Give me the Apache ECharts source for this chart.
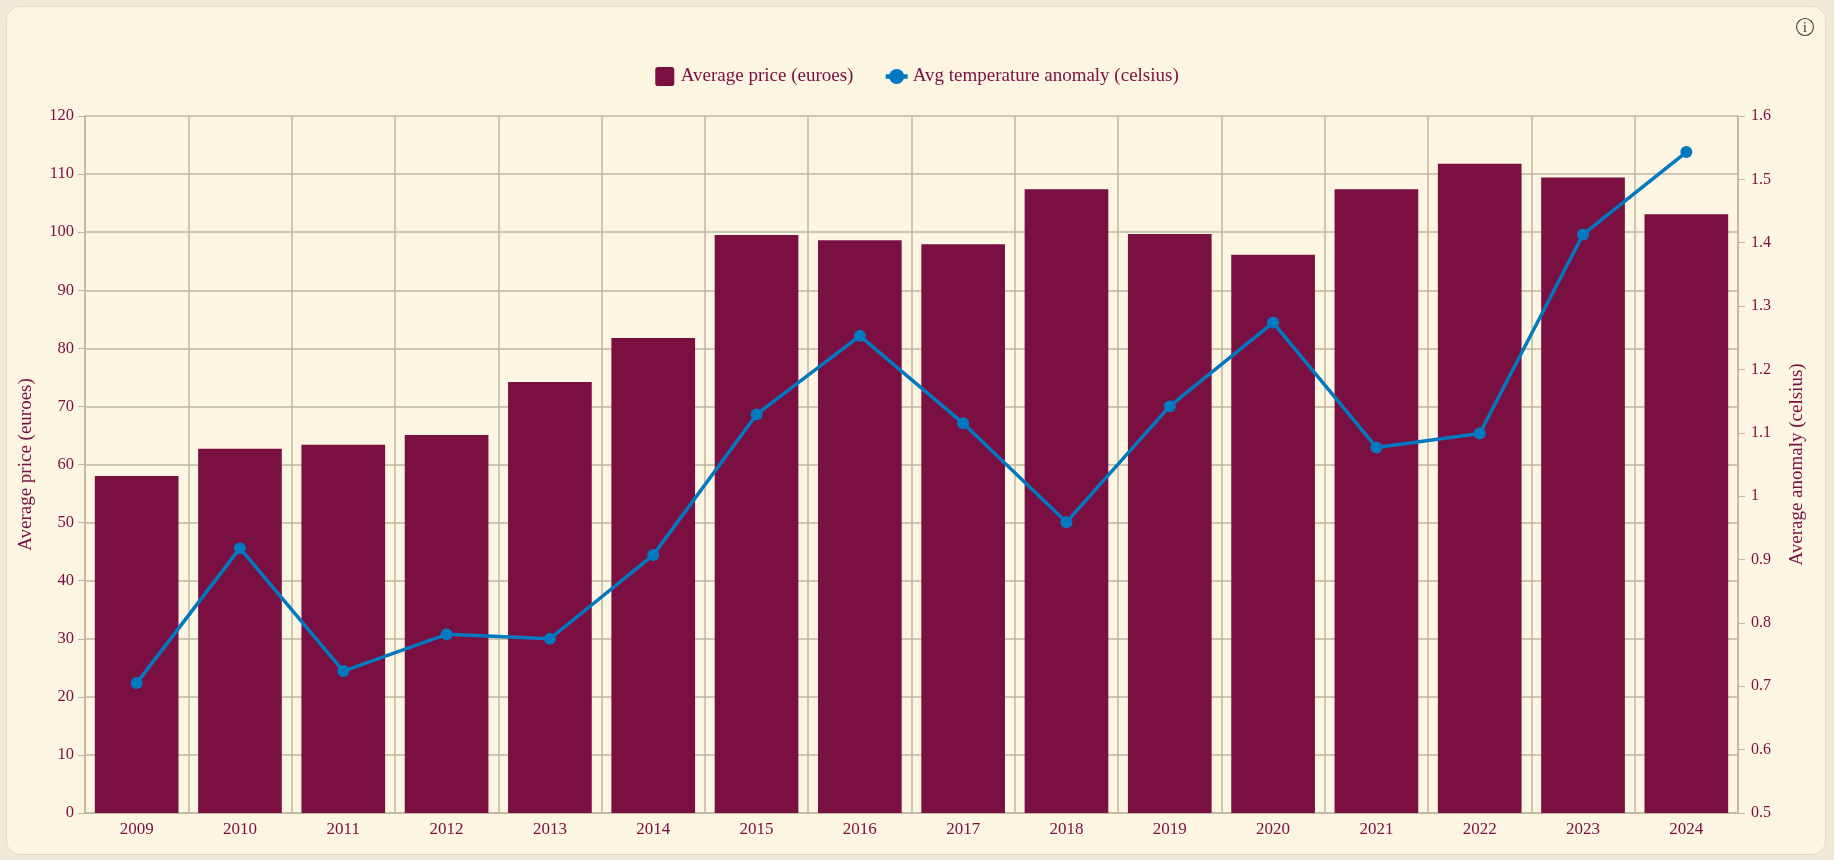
<!DOCTYPE html>
<html>
<head>
<meta charset="utf-8">
<title>Average price and temperature anomaly</title>
<script src="https://cdn.jsdelivr.net/npm/echarts@6/dist/echarts.min.js"></script>
<style>
  html, body { margin: 0; height: 100%; background: #f0e9d7; overflow: hidden; }
  #card {
    position: absolute; left: 6px; top: 6px; width: 1820px; height: 849px;
    box-sizing: border-box; background: #fcf5e1;
    border: 1px solid #e3dcc3; border-radius: 14px;
  }
  #chart { position: absolute; left: -7px; top: -7px; width: 1834px; height: 860px; }
  #info { position: absolute; left: 1788px; top: 10px; width: 20px; height: 20px; }
</style>
</head>
<body>
<div id="card">
  <div id="chart"></div>
  <svg id="info" viewBox="0 0 20 20">
    <circle cx="10" cy="10" r="8.5" fill="none" stroke="#444" stroke-width="1.1"/>
    <text x="10" y="15" text-anchor="middle" font-family="Liberation Serif" font-size="14" fill="#333">i</text>
  </svg>
</div>
<script>
  var years = ["2009", "2010", "2011", "2012", "2013", "2014", "2015", "2016",
               "2017", "2018", "2019", "2020", "2021", "2022", "2023", "2024"];
  var avgPrice = [58, 62.7, 63.4, 65.1, 74.2, 81.8, 99.5, 98.6,
                  97.9, 107.4, 99.7, 96.1, 107.4, 111.8, 109.4, 103.1];
  var tempAnomaly = [0.705, 0.918, 0.724, 0.782, 0.775, 0.907, 1.129, 1.253,
                     1.115, 0.959, 1.142, 1.274, 1.077, 1.099, 1.413, 1.543];

  var TEXT = "#7a0f41";
  var GRID = "#bfb6a0";
  var FONT = "Liberation Serif";
  var BAR_NAME = "Average price (euroes)";
  var LINE_NAME = "Avg temperature anomaly (celsius)";
  // square with rounded corners, so the swatch keeps its shape in a wider legend box
  var SWATCH = "path://M3 0H17A3 3 0 0 1 20 3V17A3 3 0 0 1 17 20H3A3 3 0 0 1 0 17V3A3 3 0 0 1 3 0Z";

  var chart = echarts.init(document.getElementById("chart"));
  chart.setOption({
    animation: false,
    textStyle: { fontFamily: FONT, color: TEXT },
    legend: {
      top: 62, left: "center", itemGap: 30, itemWidth: 22, itemHeight: 19, symbolSize: 11,
      data: [{ name: BAR_NAME, icon: SWATCH }, { name: LINE_NAME }],
      lineStyle: { width: 4.5 },
      textStyle: { color: TEXT, fontFamily: FONT, fontSize: 19 }
    },
    grid: { left: 85, right: 96, top: 116, bottom: 47, containLabel: false },
    xAxis: {
      type: "category", data: years,
      axisTick: { alignWithLabel: true, length: 7, lineStyle: { color: GRID } },
      axisLine: { lineStyle: { color: GRID, width: 1.5 } },
      axisLabel: { color: TEXT, fontFamily: FONT, fontSize: 17, margin: 8 },
      splitLine: { show: true, lineStyle: { color: GRID, width: 1.5 } }
    },
    yAxis: [{
      type: "value", min: 0, max: 120, interval: 10,
      name: BAR_NAME, nameLocation: "middle", nameGap: 49,
      nameTextStyle: { color: TEXT, fontFamily: FONT, fontSize: 19 },
      axisLine: { show: true, lineStyle: { color: GRID, width: 1.5 } },
      axisTick: { show: true, length: 7, lineStyle: { color: GRID } },
      axisLabel: { color: TEXT, fontFamily: FONT, fontSize: 16.5, margin: 11, padding: [0, 0, 2, 0] },
      splitLine: { show: true, lineStyle: { color: GRID, width: 1.5 } }
    }, {
      type: "value", min: 0.5, max: 1.6, interval: 0.1,
      name: "Average anomaly (celsius)", nameLocation: "middle", nameGap: 50, nameRotate: 90,
      nameTextStyle: { color: TEXT, fontFamily: FONT, fontSize: 19 },
      axisLine: { show: true, lineStyle: { color: GRID, width: 1.5 } },
      axisTick: { show: true, length: 7, lineStyle: { color: GRID } },
      axisLabel: { color: TEXT, fontFamily: FONT, fontSize: 16, margin: 13, padding: [0, 0, 2, 0] },
      splitLine: { show: false }
    }],
    series: [{
      name: BAR_NAME, type: "bar", data: avgPrice, yAxisIndex: 0,
      barCategoryGap: "19%",
      itemStyle: { color: "#7a0f41" }
    }, {
      name: LINE_NAME, type: "line", data: tempAnomaly, yAxisIndex: 1,
      symbol: "circle", symbolSize: 12,
      lineStyle: { color: "#0079c1", width: 3.5 },
      itemStyle: { color: "#0079c1" }
    }]
  });
</script>
</body>
</html>
